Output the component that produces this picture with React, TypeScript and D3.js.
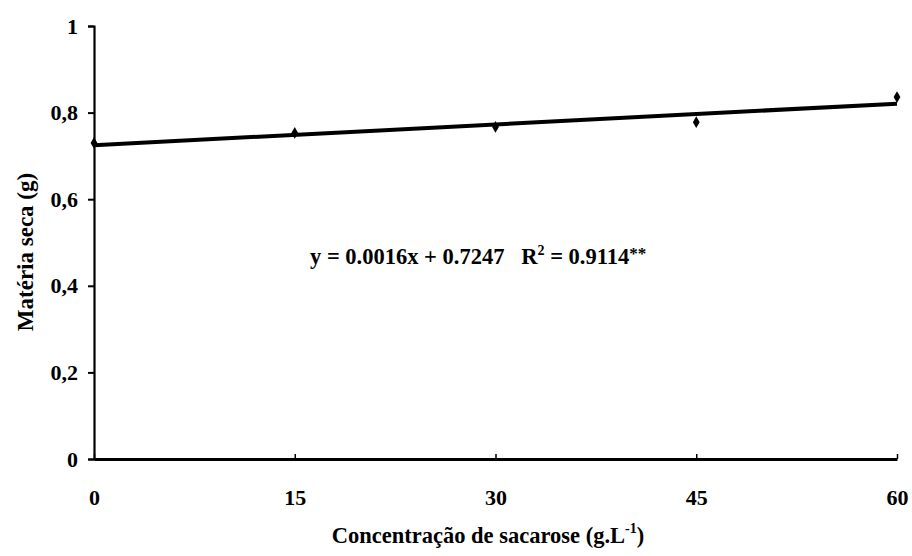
import React, { useRef, useEffect } from 'react';
import * as d3 from 'd3';

// sucrose concentration (g/L) and dry matter (g)
const concentrations = [0, 15, 30, 45, 60];
const dryMatter = [0.73, 0.753, 0.767, 0.778, 0.836];
const yTicks = [0, 0.2, 0.4, 0.6, 0.8, 1];
const xTicks = [0, 15, 30, 45, 60];
const slope = 0.0016;
const intercept = 0.7247;

const App = () => {
    const ref = useRef<SVGSVGElement>(null);

    useEffect(() => {
        if (!ref.current) return;
        const svg = d3.select(ref.current);
        svg.selectAll('*').remove();

        const margin = { left: 94, top: 26, right: 15, bottom: 97 };
        const width = 912 - margin.left - margin.right;
        const height = 556 - margin.top - margin.bottom;

        // bold serif text, like the scanned figure
        const ink = (sel: any, size: number) => sel
            .style('font-family', 'Liberation Serif')
            .style('font-size', `${size}px`)
            .style('font-weight', 'bold')
            .attr('fill', '#000');

        const x = d3.scaleLinear().domain([0, 60]).range([0, width]);
        const y = d3.scaleLinear().domain([0, 1]).range([height, 0]);

        const g = svg.append('g').attr('transform', `translate(${margin.left},${margin.top})`);

        // Y axis
        const yAxis = g.append('g')
            .call(d3.axisLeft(y).tickValues(yTicks).tickSize(6).tickPadding(10)
                .tickFormat(d => (+d === 0 || +d === 1) ? String(d) : d3.format('.1f')(+d).replace('.', ',')));
        yAxis.select('.domain').attr('stroke', '#000').attr('stroke-width', 2.2);
        yAxis.selectAll('.tick line').attr('stroke-width', 2);
        ink(yAxis.selectAll('text'), 22);

        // X axis
        const xAxis = g.append('g')
            .attr('transform', `translate(0,${height})`)
            .call(d3.axisBottom(x).tickValues(xTicks).tickSizeInner(-5).tickSizeOuter(0).tickPadding(30));
        xAxis.select('.domain').attr('stroke', '#000').attr('stroke-width', 3);
        xAxis.selectAll('.tick line').attr('stroke-width', 1.5);
        ink(xAxis.selectAll('text'), 22);

        // Trend line
        g.append('line')
            .attr('x1', x(0)).attr('y1', y(intercept))
            .attr('x2', x(60)).attr('y2', y(intercept + slope * 60))
            .attr('stroke', '#000').attr('stroke-width', 4);

        // Points
        g.selectAll('path.pt')
            .data(concentrations.map((c, i) => ({ c, v: dryMatter[i] })))
            .join('path')
            .attr('class', 'pt')
            .attr('transform', d => `translate(${x(d.c)},${y(d.v)})`)
            .attr('d', d3.symbol(d3.symbolDiamond, 40)())
            .attr('fill', '#000');

        // Equation
        const eq = ink(g.append('text'), 22.5)
            .attr('x', 216).attr('y', 238)
            .style('white-space', 'pre');
        eq.append('tspan').text('y = 0.0016x + 0.7247   R');
        eq.append('tspan').style('font-size', '14px').attr('dy', -9).text('2');
        eq.append('tspan').attr('dy', 9).text(' = 0.9114');
        eq.append('tspan').style('font-size', '17px').attr('dy', -5).text('**');

        // Axis titles
        ink(svg.append('text'), 23)
            .attr('transform', `translate(33,252) rotate(-90)`)
            .attr('text-anchor', 'middle')
            .text('Matéria seca (g)');

        const xt = ink(svg.append('text'), 22.5)
            .attr('x', 488).attr('y', 543)
            .attr('text-anchor', 'middle');
        xt.append('tspan').text('Concentração de sacarose (g.L');
        xt.append('tspan').style('font-size', '14px').attr('dy', -10).text('-1');
        xt.append('tspan').attr('dy', 10).text(')');
    }, []);

    return (
        <svg ref={ref} width={912} height={556}
            style={{ position: 'absolute', left: 0, top: 0, background: '#fff' }} />
    );
};

export default App;
